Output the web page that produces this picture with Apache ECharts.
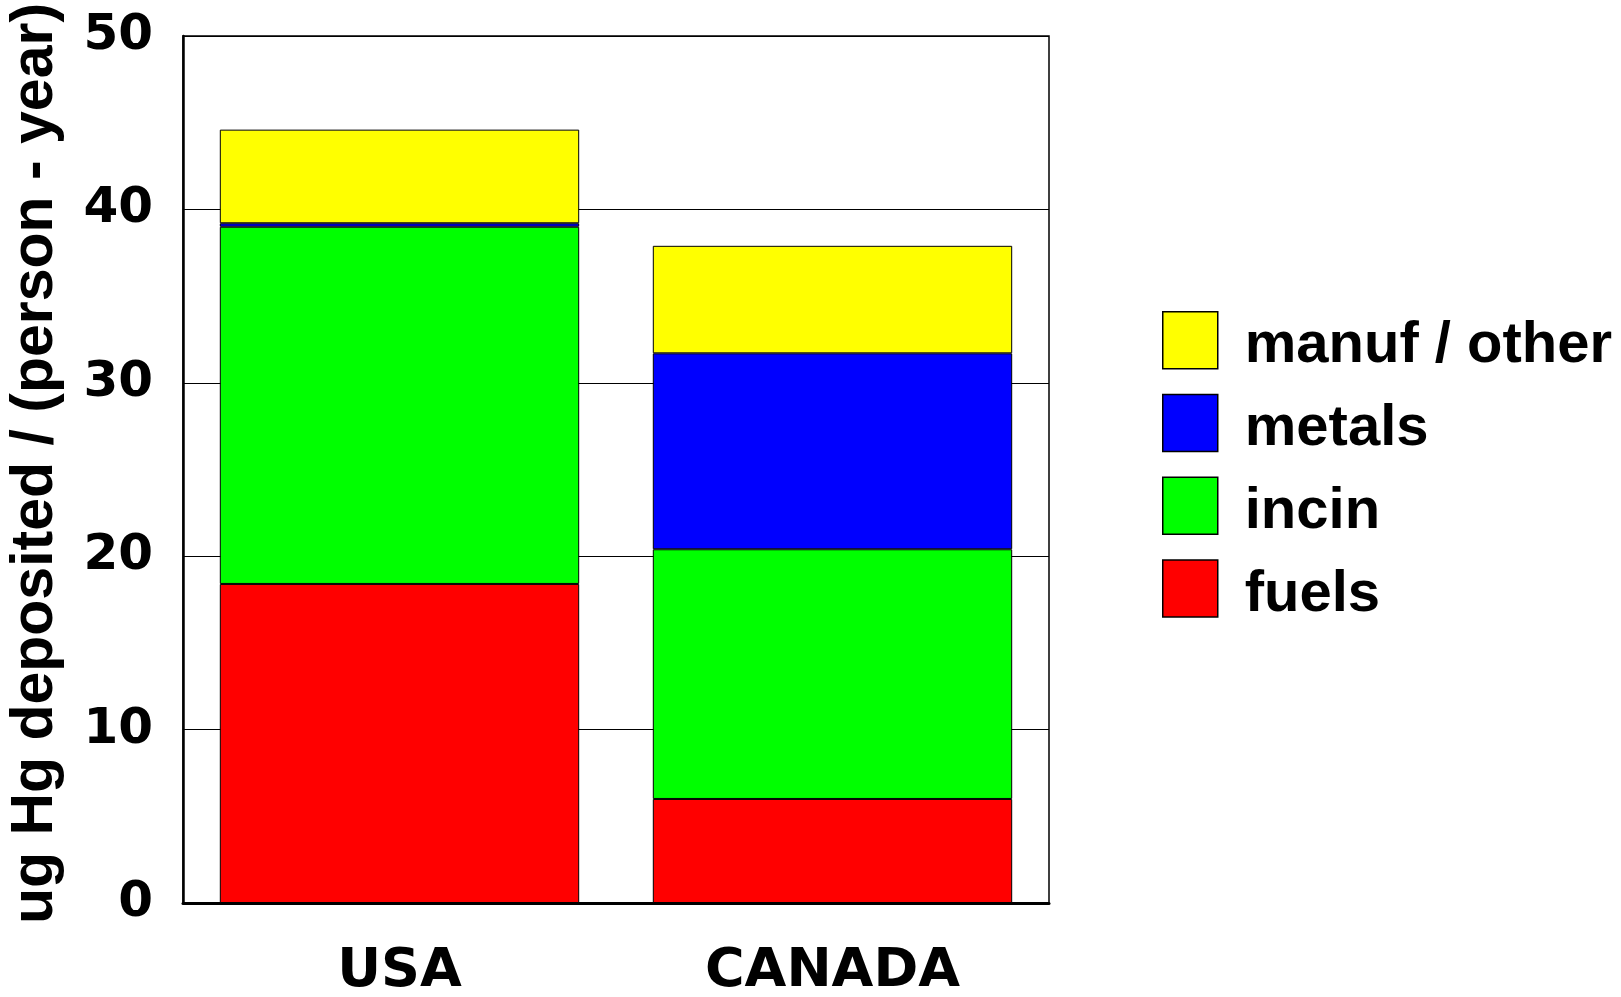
<!DOCTYPE html>
<html>
<head>
<meta charset="utf-8">
<script src="https://cdn.jsdelivr.net/npm/echarts@6/dist/echarts.min.js"></script>
<style>
html,body{margin:0;padding:0;background:#fff;}
#chart{width:1621px;height:997px;}
</style>
</head>
<body>
<div id="chart"></div>
<script>
const categories = ['USA', 'CANADA'];
const fuels = [18.4, 6.0];
const incin = [20.6, 14.4];
const metals = [0.2, 11.3];
const manufOther = [5.4, 6.2];
const yTicks = [0, 10, 20, 30, 40, 50];
const seriesNames = ['fuels', 'incin', 'metals', 'manuf / other'];
const legendOrder = ['manuf / other', 'metals', 'incin', 'fuels'];
const colors = ['#ff0000', '#00ff00', '#0000ff', '#ffff00'];
const yName = 'ug Hg deposited / (person - year)';

const chart = echarts.init(document.getElementById('chart'), null, {renderer: 'canvas'});
const values = [fuels, incin, metals, manufOther];
const series = seriesNames.map((n, i) => ({
  name: n,
  type: 'bar',
  stack: 'total',
  data: values[i],
  barCategoryGap: '17%',
  itemStyle: {color: colors[i], borderColor: '#000', borderWidth: 1},
  emphasis: {disabled: true}
}));

chart.setOption({
  animation: false,
  backgroundColor: '#fff',
  grid: {left: 183, right: 572, top: 36, bottom: 94, show: true, borderColor: '#000', borderWidth: 1.5,
    backgroundColor: 'transparent', containLabel: false, outerBoundsMode: 'none'},
  legend: {
    data: legendOrder,
    orient: 'vertical',
    left: 1157,
    top: 306,
    itemWidth: 55,
    itemHeight: 57,
    itemGap: 18.5,
    icon: 'rect',
    selectedMode: false,
    itemStyle: {borderColor: '#000', borderWidth: 1.5},
    formatter: n => '{t|' + n + '}',
    textStyle: {
      rich: {t: {fontFamily: 'Liberation Sans', fontWeight: 'bold', fontSize: 58, color: '#000', padding: [12, 0, 0, 22]}}
    }
  },
  xAxis: {
    type: 'category',
    data: categories,
    axisLine: {show: true, lineStyle: {color: '#000', width: 3}},
    axisTick: {show: false},
    axisLabel: {fontFamily: 'DejaVu Sans', fontWeight: 'bold', fontSize: 54, color: '#000', margin: 42}
  },
  yAxis: {
    type: 'value',
    min: 0,
    max: 50,
    interval: 10,
    name: yName,
    nameLocation: 'middle',
    nameGap: 118,
    nameTextStyle: {fontFamily: 'Liberation Sans', fontWeight: 'bold', fontSize: 59, color: '#000', padding: [0, 0, 0, 12]},
    axisLine: {show: true, lineStyle: {color: '#000', width: 2.5}},
    axisTick: {show: false},
    splitLine: {show: true, lineStyle: {color: '#000', width: 1}},
    axisLabel: {fontFamily: 'DejaVu Sans', fontWeight: 'bold', fontSize: 50, color: '#000', margin: 30,
      formatter: v => yTicks.includes(v) ? String(v) : ''}
  },
  series: series
});
</script>
</body>
</html>
